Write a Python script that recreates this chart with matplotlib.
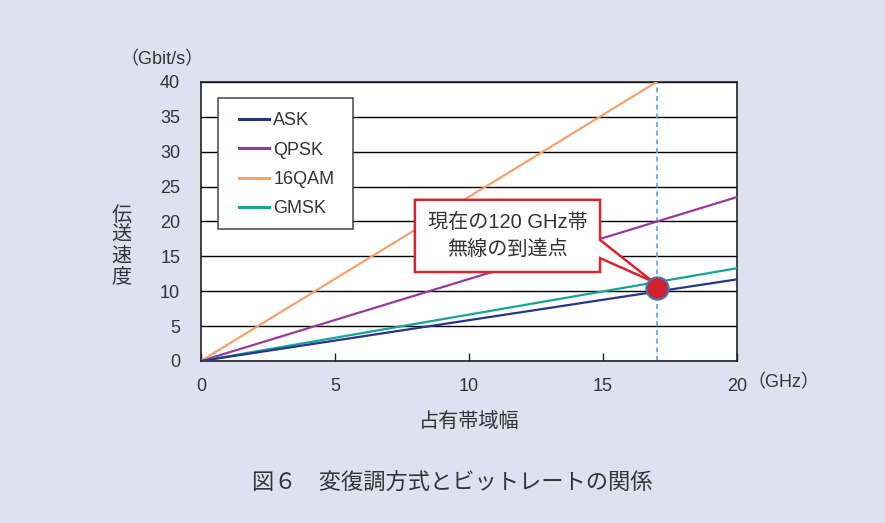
import numpy as np
import matplotlib.pyplot as plt
from matplotlib.patches import Polygon, Rectangle

plt.rcParams['font.family'] = ['Liberation Sans', 'Noto Sans CJK JP', 'DejaVu Sans']

# occupied bandwidth (GHz) at the two ends of each line
bw = [0, 20]
bw_16qam = [0, 17]

# bit rate (Gbit/s) at those ends
rate_ask = [0, 11.7]
rate_qpsk = [0, 23.5]
rate_16qam = [0, 40]
rate_gmsk = [0, 13.3]

labels = ['ASK', 'QPSK', '16QAM', 'GMSK']
colors = ['#27348f', '#983a9c', '#f7a16c', '#16a592']

# current reach of 120 GHz band radio
reach_bw = 17
reach_rate = 10.5

bg = '#dfe1f0'
txt = '#333333'

fig = plt.figure(figsize=(8.85, 5.23), dpi=100, facecolor=bg)
ax = fig.add_axes([0.2271, 0.3098, 0.6057, 0.5335])
ax.set_facecolor('white')

ax.plot(bw, rate_ask, color=colors[0], lw=1.6, label=labels[0], zorder=4)
ax.plot(bw, rate_qpsk, color=colors[1], lw=1.6, label=labels[1], zorder=3)
ax.plot(bw_16qam, rate_16qam, color=colors[2], lw=1.6, label=labels[2], zorder=3)
ax.plot(bw, rate_gmsk, color=colors[3], lw=1.6, label=labels[3], zorder=3)

# dashed marker line at the reach point
ax.axvline(reach_bw, color='#5aa8dc', lw=1.2, ls=(0, (3, 2.2)), zorder=2)

ax.set_xlim(0, 20)
ax.set_ylim(0, 40)
ax.set_xticks(np.arange(0, 21, 5))
ax.set_yticks(np.arange(0, 41, 5))
ax.yaxis.grid(True, color='black', lw=1.0)
ax.set_axisbelow(True)
ax.tick_params(axis='x', direction='in', length=6, width=1, pad=12,
               labelsize=13, colors='#222222', labelcolor=txt)
ax.tick_params(axis='y', length=0, pad=15, labelsize=13, labelcolor=txt)
for s in ax.spines.values():
    s.set_color('#222222')
    s.set_linewidth(1.2)

# legend frame drawn separately so its padding can be set freely
ax.add_patch(Rectangle((0.0317, 0.473), 0.2519, 0.4706, transform=ax.transAxes,
                       facecolor='white', edgecolor='#444444', lw=1.1, zorder=5))
leg = ax.legend(loc='upper left', bbox_to_anchor=(0.0709, 0.891), borderaxespad=0,
                fontsize=13, frameon=False, handlelength=1.65,
                handletextpad=0.25, labelspacing=0.68, borderpad=0)
leg.set_zorder(6)
for t in leg.get_texts():
    t.set_color(txt)
for h in leg.get_lines():
    h.set_linewidth(2.2)

# callout box with a pointer toward the reach point
L, R, T, B = 7.98, 14.89, 23.1, 12.75
callout = Polygon([(L, T), (R, T), (R, 17.35), (reach_bw - 0.15, reach_rate + 0.9),
                   (R, 14.75), (R, B), (L, B)], closed=True,
                  facecolor='white', edgecolor='#d7262e', lw=1.8, zorder=6)
ax.add_patch(callout)
ax.text((L + R) / 2, (T + B) / 2, '現在の120 GHz帯\n無線の到達点', ha='center', va='center',
        fontsize=14.5, color=txt, linespacing=1.55, zorder=7)

ax.plot([reach_bw], [reach_rate], 'o', ms=16, mfc='#d2202f', mec='#4a72b8',
        mew=1.5, zorder=8, clip_on=False)

# axis titles and units
fig.text(0.136, 0.886, '（Gbit/s）', ha='left', va='center', fontsize=13, color=txt)
fig.text(0.845, 0.268, '（GHz）', ha='left', va='center', fontsize=13, color=txt)
for i, ch in enumerate('伝送速度'):
    fig.text(0.1375, 1 - (215 + 20.7 * i) / 523, ch, ha='center', va='center',
             fontsize=14.5, color=txt)
fig.text(0.5305, 0.194, '占有帯域幅', ha='center', va='center', fontsize=14.5, color=txt)
fig.text(0.5107, 0.0745, '図６　変復調方式とビットレートの関係', ha='center', va='center',
         fontsize=16, color=txt)

fig.savefig('out.png', dpi=100, facecolor=bg)
